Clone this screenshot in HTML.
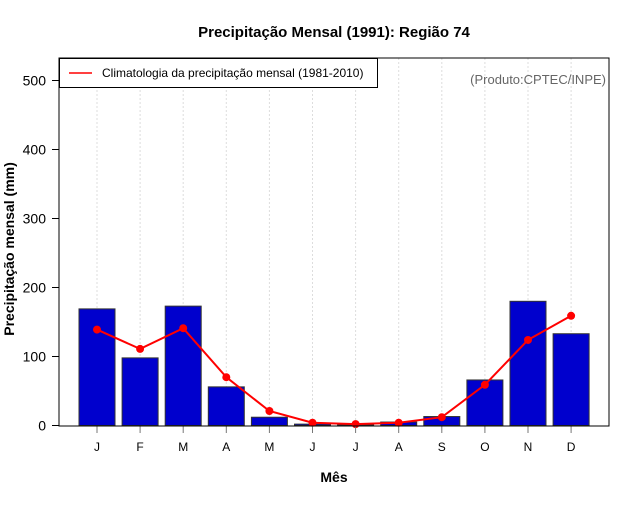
<!DOCTYPE html>
<html><head><meta charset="utf-8"><style>
body{margin:0;background:#fff;font-family:"Liberation Sans",sans-serif}
</style></head><body>
<svg id="chart" width="640" height="500" xmlns="http://www.w3.org/2000/svg" font-family="Liberation Sans, sans-serif">
<rect width="640" height="500" fill="#fff"/>
<text x="334" y="37" text-anchor="middle" font-size="15" font-weight="bold">Precipitação Mensal (1991): Região 74</text>
<g id="grid"></g><g id="bars"></g><g id="line"></g><g id="axes"></g>
<rect x="59" y="58" width="550" height="368" fill="none" stroke="#000" stroke-width="1"/>
<g>
<rect x="59.5" y="58.5" width="318" height="29" fill="#fff" stroke="#000"/>
<line x1="69" y1="73" x2="92" y2="73" stroke="red" stroke-width="1.5"/>
<text x="102" y="77" font-size="12">Climatologia da precipitação mensal (1981-2010)</text>
</g>
<text x="606" y="84" text-anchor="end" font-size="13" fill="#666">(Produto:CPTEC/INPE)</text>
<text x="334" y="482" text-anchor="middle" font-size="14" font-weight="bold">Mês</text>
<text transform="translate(14,249) rotate(-90)" text-anchor="middle" font-size="14" font-weight="bold">Precipitação mensal (mm)</text>
</svg>
<script>
const months=["J","F","M","A","M","J","J","A","S","O","N","D"];
const precip=[169,98,173,56,12,2,1,5,13,66,180,133];
const clim=[139,111,141,70,21,4,2,4,12,59,124,159];
const yTicks=[0,100,200,300,400,500];
const NS="http://www.w3.org/2000/svg";
const y=v=>425.5-v*0.69;
const x=i=>97+i*43.1;
function mk(tag,attrs,parent){const e=document.createElementNS(NS,tag);for(const k in attrs)e.setAttribute(k,attrs[k]);document.getElementById(parent).appendChild(e);return e;}
months.forEach((m,i)=>{
  const g=mk('line',{x1:x(i),x2:x(i),y1:58,y2:426,stroke:'#ddd','stroke-dasharray':'2,2'},'grid');
  
  
  const b=mk('rect',{x:x(i)-18,y:y(precip[i]),width:36,height:y(0)-y(precip[i]),fill:'#0000cd',stroke:'#333','stroke-width':1},'bars');
  
  
  const t=mk('line',{x1:x(i),x2:x(i),y1:426,y2:433,stroke:'#777'},'axes');
  
  
  const l=mk('text',{x:x(i),y:451,'text-anchor':'middle','font-size':12},'axes');l.textContent=m;
  
  
});
const pl=mk('polyline',{points:clim.map((v,i)=>x(i)+','+y(v)).join(' '),fill:'none',stroke:'red','stroke-width':2},'line');


clim.forEach((v,i)=>{
  const c=mk('circle',{cx:x(i),cy:y(v),r:4,fill:'red'},'line');
  
  
});
yTicks.forEach(v=>{
  const t=mk('line',{x1:52,x2:59,y1:y(v),y2:y(v),stroke:'#000'},'axes');
  
  
  const l=mk('text',{x:46,y:y(v)+5,'text-anchor':'end','font-size':14},'axes');l.textContent=v;
  
  
});
</script>
</body></html>
